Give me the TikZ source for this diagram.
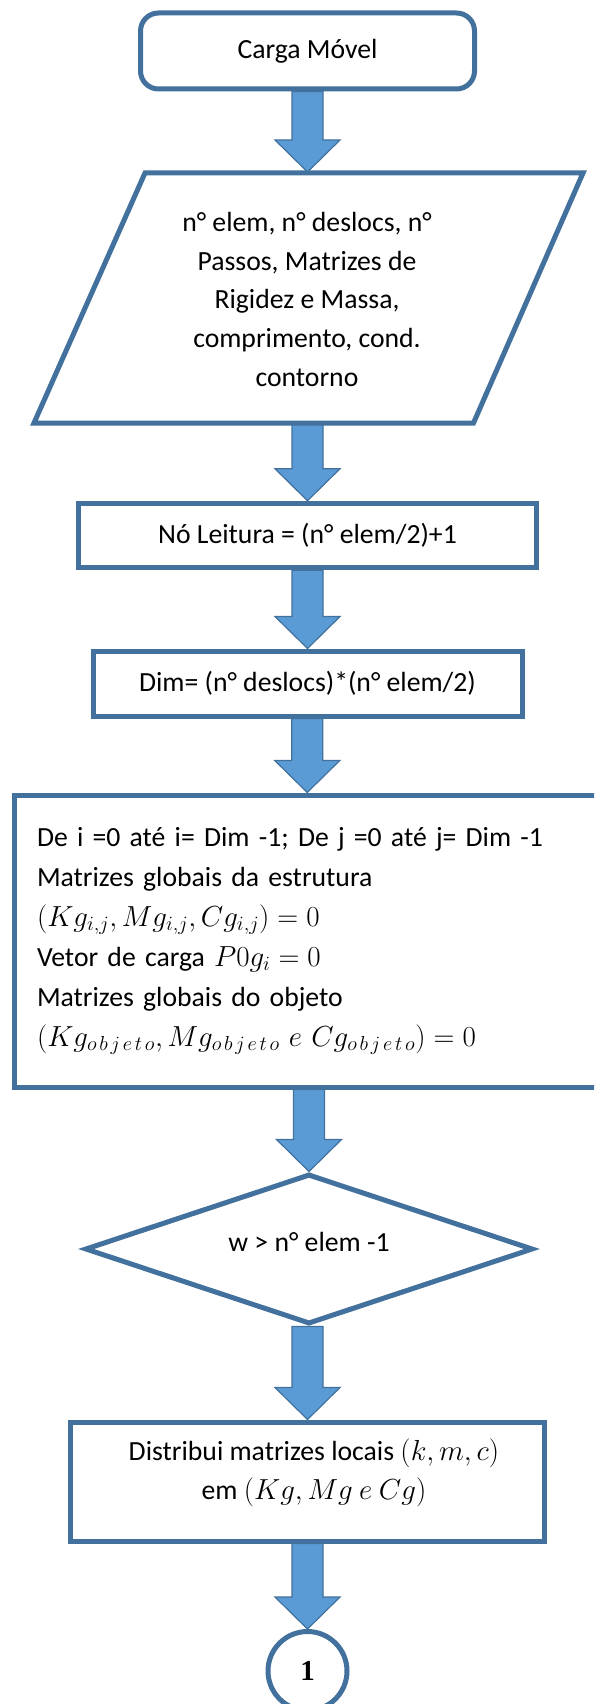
\RequirePackage{fix-cm}
\documentclass[tikz,border=0pt]{standalone}
\usepackage{fontspec}
\setmainfont{Carlito}
\newfontfamily\serifbold{Liberation Serif}
\usetikzlibrary{shapes.geometric,calc}
\definecolor{outl}{HTML}{41719C}
\definecolor{afill}{HTML}{5B9BD5}
\newcommand{\mth}[1]{{\fontsize{29}{29}\selectfont$#1$}}
\newcommand{\obj}{o\mkern2.5mu b\mkern2.5mu j\mkern2.5mu e\mkern2.5mu t\mkern2.5mu o}
\tikzset{
  box/.style={draw=outl, line width=5pt, fill=white, inner sep=0pt,
              font=\fontsize{27.7}{38.7}\selectfont, align=center},
  txt/.style={inner sep=0pt, font=\fontsize{27.7}{38.7}\selectfont, align=center},
  barrow/.style={fill=afill, draw=outl, line width=1.2pt, line join=miter},
}
\newcommand{\blockarrow}[2]{%
  \draw[barrow] let \p1=(#1), \p2=(#2) in
    (\x2-15.5pt,\y1) -- (\x2+15.5pt,\y1) -- (\x2+15.5pt,\y2+32pt) --
    (\x2+32.5pt,\y2+32pt) -- (\x2,\y2) -- (\x2-32.5pt,\y2+32pt) --
    (\x2-15.5pt,\y2+32pt) -- cycle;}
\begin{document}
\begin{tikzpicture}[x=1pt,y=-1pt]
\useasboundingbox (0,0) rectangle (594,1704);
\clip (0,0) rectangle (594,1704);
\fill[white] (0,0) rectangle (594,1704);

% start
\node[box, rounded corners=18pt, minimum width=334pt, minimum height=76pt] (start) at (307.5,51) {Carga Móvel};

% input parallelogram
\coordinate (pTL) at (145,173);
\coordinate (pTR) at (583,173);
\coordinate (pBR) at (473.5,423);
\coordinate (pBL) at (34,423);
\draw[draw=outl, line width=5pt, fill=white, line join=miter] (pTL) -- (pTR) -- (pBR) -- (pBL) -- cycle;
\coordinate (inT) at (307.5,172);
\coordinate (inB) at (307.5,425);
\node[txt] (input) at (307,299.4) {n° elem, n° deslocs, n°\\Passos, Matrizes de\\Rigidez e Massa,\\comprimento, cond.\\contorno};

% process boxes
\node[box, minimum width=458pt, minimum height=64.5pt] (leit) at (307.5,535.5) {Nó Leitura = (n° elem/2)+1};
\node[box, minimum width=429pt, minimum height=65pt] (dim) at (307.5,683.5) {Dim= (n° deslocs)*(n° elem/2)};

\node[box, minimum width=585.5pt, minimum height=292pt, text width=540.5pt, align=left,
      font=\fontsize{27.7}{40}\selectfont] (glob) at (307.25,941)
{De i =0 até i= Dim -1; De j =0 até j= Dim -1\\
Matrizes globais da estrutura\\
\mth{\bigl(Kg_{i,j}, Mg_{i,j}, Cg_{i,j}\bigr) = 0}\\
Vetor de carga \mth{P0g_i = 0}\\
Matrizes globais do objeto\\
\mth{(Kg_{\obj}, Mg_{\obj}\ e\ Cg_{\obj}) = 0}};

% decision
\node[draw=outl, line width=5pt, fill=white, diamond, aspect=3, inner sep=0pt,
      minimum width=448pt, minimum height=150pt] (cond) at (309,1249) {};
\node[txt] (condT) at (309,1242) {w > n° elem -1};

% distribute
\node[box, minimum width=474pt, minimum height=119pt] (dist) at (307.5,1481.5) {};
\node[txt, font=\fontsize{27.7}{39.4}\selectfont] (distT) at (314,1473) {Distribui matrizes locais \mth{(k,m,c)}\\em \mth{(Kg, Mg\ e\ Cg)}};

% connector
\node[circle, draw=outl, line width=5pt, fill=white, minimum size=79pt, inner sep=0pt,
      font=\serifbold\bfseries\fontsize{29}{30}\selectfont] (conn) at (307.5,1671) {1};

% arrows
\blockarrow{start.south}{inT}
\blockarrow{inB}{leit.north}
\blockarrow{leit.south}{dim.north}
\blockarrow{dim.south}{glob.north}
\blockarrow{glob.south}{cond.north}
\blockarrow{cond.south}{dist.north}
\blockarrow{dist.south}{conn.north}
\end{tikzpicture}
\end{document}
